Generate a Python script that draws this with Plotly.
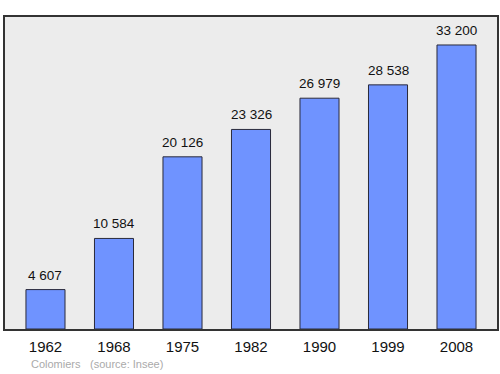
import plotly.graph_objects as go

years = ["1962", "1968", "1975", "1982", "1990", "1999", "2008"]
population = [4607, 10584, 20126, 23326, 26979, 28538, 33200]
labels = ["4 607", "10 584", "20 126", "23 326", "26 979", "28 538", "33 200"]

xs = list(range(len(years)))
FONT = "Liberation Sans, Arial"

fig = go.Figure()
fig.add_trace(go.Bar(
    x=xs, y=population, width=0.57,
    marker=dict(color="#6f93ff", line=dict(color="#2a2a3a", width=1)),
    hoverinfo="skip",
))

for x, y, t in zip(xs, population, labels):
    fig.add_annotation(x=x, y=y, text=t, showarrow=False, yanchor="bottom",
                       yshift=5, font=dict(family=FONT, size=13.5, color="#111"))

fig.add_annotation(xref="paper", yref="paper", x=0.048, y=-0.088, xanchor="left", yanchor="top",
                   text="Colomiers", showarrow=False,
                   font=dict(family=FONT, size=11, color="#aaaaaa"))
fig.add_annotation(xref="paper", yref="paper", x=0.168, y=-0.088, xanchor="left", yanchor="top",
                   text="(source: Insee)", showarrow=False,
                   font=dict(family=FONT, size=11, color="#aaaaaa"))

fig.update_layout(
    width=500, height=374,
    margin=dict(l=5, r=3, t=17, b=45, autoexpand=False),
    paper_bgcolor="white", plot_bgcolor="#ececec",
    showlegend=False,
    xaxis=dict(range=[-0.591, 6.591], tickmode="array", tickvals=xs, ticktext=years,
               showgrid=False, zeroline=False, showline=True, mirror=True,
               linecolor="#333", linewidth=1.5, ticks="", ticklabelstandoff=3,
               tickfont=dict(family=FONT, size=15, color="#111"),
               automargin=False, fixedrange=True),
    yaxis=dict(range=[0, 36470], showgrid=False, zeroline=False, showticklabels=False,
               showline=True, mirror=True, linecolor="#333", linewidth=1.5, ticks="",
               automargin=False, fixedrange=True),
)

fig.write_html("out.html", config={"responsive": False, "displayModeBar": False},
               post_script="document.body.style.margin='0';document.body.style.overflow='hidden';")
